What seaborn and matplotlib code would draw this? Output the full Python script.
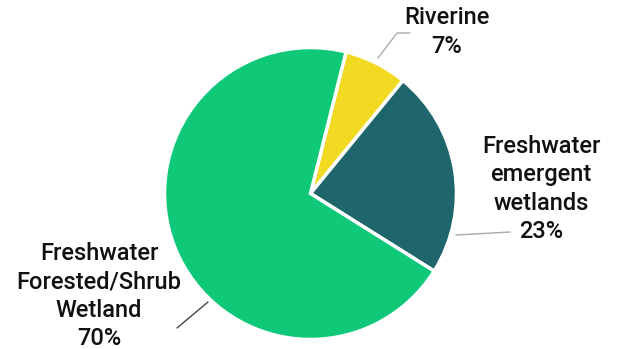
import matplotlib
matplotlib.use("Agg")
import matplotlib.pyplot as plt
import seaborn as sns

categories = ["Riverine", "Freshwater\nemergent\nwetlands", "Freshwater\nForested/Shrub\nWetland"]
values = [7, 23, 70]
colors = ["#F2DA22", "#1F666C", "#0FC978"]

sns.set_theme(style="white")
plt.rcParams['font.family'] = ['Roboto', 'DejaVu Sans']

W, H = 622, 349
fig = plt.figure(figsize=(6.22, 3.49), dpi=100)
ax = fig.add_axes([0, 0, 1, 1])

def Y(y):
    return H - y

cx, cy, r = 310.5, 193.5, 146
ax.pie(values, colors=colors, startangle=75.9, counterclock=False,
       center=(cx, Y(cy)), radius=r,
       wedgeprops=dict(edgecolor='white', linewidth=2.5))
ax.set_xlim(0, W)
ax.set_ylim(0, H)
ax.set_aspect('equal')
ax.axis('off')

# leader lines
ax.plot([378, 397, 410], [Y(58), Y(33), Y(33)], color='#AAAAAA', lw=1)
ax.plot([456, 510], [Y(235), Y(232)], color='#AAAAAA', lw=1)
ax.plot([208, 177], [Y(302), Y(328)], color='#444444', lw=1)

fs = 17
kw = dict(ha='center', va='center', fontsize=fs, fontweight='medium',
          linespacing=1.3, color='#111111')
ax.text(447, Y(32), f"{categories[0]}\n{values[0]}%", **kw)
ax.text(541, Y(189), f"{categories[1]}\n{values[1]}%", **kw)
ax.text(99, Y(296), f"{categories[2]}\n{values[2]}%", **kw)

fig.savefig("out.png", dpi=100)
